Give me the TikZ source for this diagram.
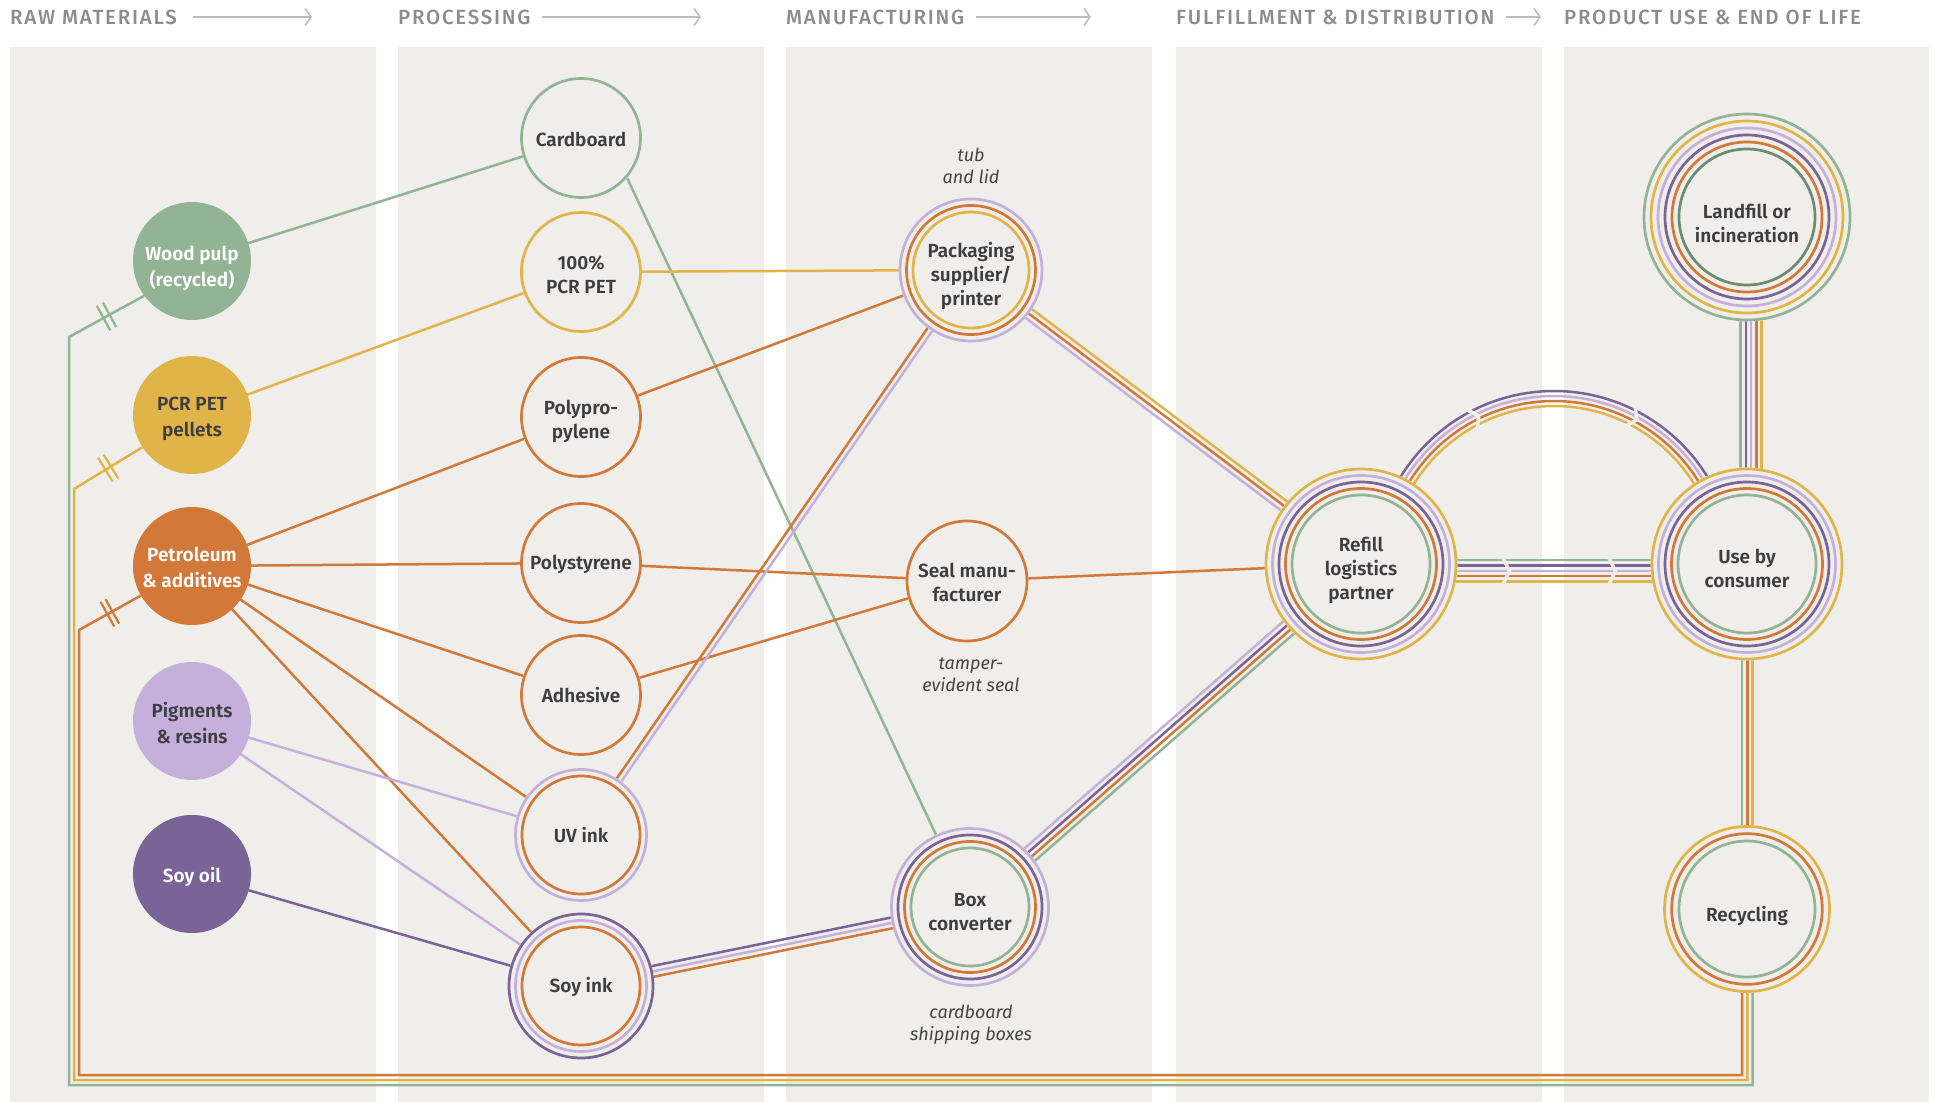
\documentclass[tikz,border=0pt]{standalone}
\usepackage{fontspec}
\setmainfont{Fira Sans}
\IfFontExistsTF{Fira Sans SemiBold}{\newfontfamily\semib{Fira Sans SemiBold}}{\newcommand\semib{\bfseries}}
\IfFontExistsTF{Fira Sans Medium}{\newfontfamily\headf{Fira Sans Medium}[LetterSpace=8.5]}{\newfontfamily\headf{Fira Sans}[LetterSpace=8.5]}
\usetikzlibrary{calc,arrows.meta}
\definecolor{bandc}{HTML}{EFEEEA}
\definecolor{cgreen}{HTML}{93B494}
\definecolor{cdkgreen}{HTML}{6C8C6F}
\definecolor{cyellow}{HTML}{E0B449}
\definecolor{corange}{HTML}{D27839}
\definecolor{clav}{HTML}{C4B0DA}
\definecolor{cpurple}{HTML}{7A6396}
\definecolor{ctext}{HTML}{3E3E42}
\definecolor{chead}{HTML}{8C8C8C}
\definecolor{carrow}{HTML}{BDBDBD}
\definecolor{cnote}{HTML}{444444}
\pgfdeclarelayer{bands}\pgfdeclarelayer{lines}\pgfsetlayers{bands,lines,main}
\tikzset{
  lbl/.style={font=\semib\fontsize{19}{24}\selectfont, text=ctext, align=center, inner sep=0pt},
  rawlbl/.style={font=\semib\fontsize{19}{26}\selectfont, text=ctext, align=center, inner sep=0pt},
  rawnode/.style={circle, minimum size=118pt, inner sep=0pt},
  hub/.style={circle, minimum size=#1, inner sep=0pt, fill=bandc},
  conn/.style={line width=2.5pt},
  ring/.style={line width=2.7pt},
  notetxt/.style={font=\itshape\fontsize{18}{22}\selectfont, text=cnote, align=center},
  hdr/.style={font=\headf\fontsize{20.5}{22}\selectfont, text=chead, anchor=west, inner sep=0pt},
  harrow/.style={draw=carrow, line width=1.6pt, -{Straight Barb[length=6pt,width=17pt]}},
  chev/.style={draw=bandc, line width=3.6pt},
}
\newcommand\rings[2]{\foreach \rr/\cc in {#2}{\draw[ring,\cc] (#1.center) circle[radius=\rr pt];}}
\newcommand\bundle[3]{\foreach \oo/\cc in {#3}{\draw[conn,\cc] ($(#1.center)!\oo pt!90:(#2.center)$) -- ($(#2.center)!\oo pt!-90:(#1.center)$);}}
\newcommand\tickmarks[3]{%
  \path (#1) -- (#2) coordinate[pos=0.46] (tka) coordinate[pos=0.54] (tkb);
  \draw[#3, line width=2.2pt] ($(tka)!14pt!90:(#2)$) -- ($(tka)!14pt!-90:(#2)$);
  \draw[#3, line width=2.2pt] ($(tkb)!14pt!90:(#2)$) -- ($(tkb)!14pt!-90:(#2)$);}
\begin{document}
\begin{tikzpicture}[x=1pt,y=-1pt]
\useasboundingbox (0,0) rectangle (1939,1102);
\begin{pgfonlayer}{bands}
\fill[white] (0,0) rectangle (1939,1102);
\foreach \xa/\xb in {10/376,398/764,786/1152,1176/1542,1564/1929}
  \fill[bandc] (\xa,47) rectangle (\xb,1102);
\end{pgfonlayer}

% headers
\node[hdr] (h1) at (10,17) {RAW MATERIALS};
\node[hdr] (h2) at (398,17) {PROCESSING};
\node[hdr] (h3) at (786,17) {MANUFACTURING};
\node[hdr] (h4) at (1176,17) {FULFILLMENT \& DISTRIBUTION};
\node[hdr] (h5) at (1564,17) {PRODUCT USE \& END OF LIFE};
\coordinate (a1) at (312,17);
\coordinate (a2) at (701,17);
\coordinate (a3) at (1091,17);
\coordinate (a4) at (1541,17);
\draw[harrow] ([xshift=16pt]h1.east) -- (a1);
\draw[harrow] ([xshift=11pt]h2.east) -- (a2);
\draw[harrow] ([xshift=12pt]h3.east) -- (a3);
\draw[harrow] ([xshift=11pt]h4.east) -- (a4);

% raw materials
\node[rawnode, fill=cgreen] (wood) at (192,261) {};
\node[rawlbl, text=white] (woodt) at ($(wood)+(0,7)$) {Wood pulp\\(recycled)};
\node[rawnode, fill=cyellow] (pcrpel) at (192,415) {};
\node[rawlbl] (pcrpelt) at ($(pcrpel)+(0,4)$) {PCR PET\\pellets};
\node[rawnode, fill=corange] (petro) at (192,566) {};
\node[rawlbl, text=white] (petrot) at ($(petro)+(0,1.5)$) {Petroleum\\\& additives};
\node[rawnode, fill=clav] (pigm) at (192,721) {};
\node[rawlbl] (pigmt) at ($(pigm)+(0,2.5)$) {Pigments\\\& resins};
\node[rawnode, fill=cpurple] (soyoil) at (192,874) {};
\node[rawlbl, text=white] (soyoilt) at ($(soyoil)+(0,2.5)$) {Soy oil};

% processing
\node[hub=122pt] (cardb) at (581,138) {}; \rings{cardb}{59.5/cgreen}
\node[lbl] (cardbt) at ($(cardb)+(0,1)$) {Cardboard};
\node[hub=122pt] (pcrpet) at (581,272) {}; \rings{pcrpet}{59.5/cyellow}
\node[lbl] (pcrpett) at ($(pcrpet)+(0,2.5)$) {100\%\\PCR PET};
\node[hub=122pt] (polyp) at (581,417) {}; \rings{polyp}{59.5/corange}
\node[lbl] (polypt) at ($(polyp)+(0,4)$) {Polypro-\\pylene};
\node[hub=122pt] (polys) at (581,563) {}; \rings{polys}{59.5/corange}
\node[lbl] (polyst) at ($(polys)+(0,1)$) {Polystyrene};
\node[hub=122pt] (adhes) at (581,695) {}; \rings{adhes}{59.5/corange}
\node[lbl] (adhest) at (adhes) {Adhesive};
\node[hub=134pt] (uvink) at (581,835) {}; \rings{uvink}{59/corange,65.5/clav}
\node[lbl] (uvinkt) at (uvink) {UV ink};
\node[hub=147pt] (soyink) at (581,986) {}; \rings{soyink}{59/corange,65.5/clav,72/cpurple}
\node[lbl] (soyinkt) at ($(soyink)+(0,1)$) {Soy ink};

% manufacturing
\node[hub=145pt] (pack) at (971,270) {}; \rings{pack}{58/cyellow,64.5/corange,71/clav}
\node[lbl] (packt) at ($(pack)+(0,6)$) {Packaging\\supplier/\\printer};
\node[hub=123pt] (seal) at (967,581) {}; \rings{seal}{60/corange}
\node[lbl] (sealt) at ($(seal)+(0,1)$) {Seal manu-\\facturer};
\node[hub=160pt] (box) at (970,907) {}; \rings{box}{59/cgreen,65.5/corange,72/cpurple,78.5/clav}
\node[lbl] (boxt) at ($(box)+(0,5)$) {Box\\converter};

% fulfillment / end of life
\node[hub=193pt] (refill) at (1361,564) {};
\rings{refill}{69/cgreen,75.5/corange,82/cpurple,88.5/clav,95/cyellow}
\node[lbl] (refillt) at ($(refill)+(0,6)$) {Refill\\logistics\\partner};
\node[hub=193pt] (use) at (1747,564) {};
\rings{use}{69/cgreen,75.5/corange,82/cpurple,88.5/clav,95/cyellow}
\node[lbl] (uset) at ($(use)+(0,4)$) {Use by\\consumer};
\node[hub=209pt] (landfill) at (1747,217) {};
\rings{landfill}{68/cdkgreen,75/corange,82/cpurple,89/clav,96/cyellow,103/cgreen}
\node[lbl] (landfillt) at ($(landfill)+(0,6)$) {Landfill or\\incineration};
\node[hub=168pt] (recyc) at (1747,909) {};
\rings{recyc}{68/cgreen,75.3/corange,82.5/cyellow}
\node[lbl] (recyct) at ($(recyc)+(0,6.5)$) {Recycling};

% notes
\node[notetxt] (n1) at (971,166) {tub\\and lid};
\node[notetxt] (n2) at (971,675) {tamper-\\evident seal};
\node[notetxt] (n3) at (971,1025) {cardboard\\shipping boxes};

% loop corners
\coordinate (og1) at (1742,1075); \coordinate (og2) at (79,1075); \coordinate (og3) at (79,630);
\coordinate (oy1) at (1747.3,1080); \coordinate (oy2) at (74,1080); \coordinate (oy3) at (74,489);
\coordinate (gg1) at (1752.6,1085); \coordinate (gg2) at (69,1085); \coordinate (gg3) at (69,337);

\begin{pgfonlayer}{lines}
% raw -> processing
\draw[conn,cgreen] (wood.center) -- (cardb.center);
\draw[conn,cyellow] (pcrpel.center) -- (pcrpet.center);
\foreach \t in {polyp,polys,adhes,uvink,soyink} \draw[conn,corange] (petro.center) -- (\t.center);
\draw[conn,clav] (pigm.center) -- (uvink.center);
\draw[conn,clav] (pigm.center) -- (soyink.center);
\draw[conn,cpurple] (soyoil.center) -- (soyink.center);
% processing -> manufacturing
\draw[conn,cgreen] (cardb.-41) -- (box.center);
\draw[conn,cyellow] (pcrpet.center) -- (pack.center);
\draw[conn,corange] (polyp.center) -- (pack.center);
\draw[conn,corange] (polys.center) -- (seal.center);
\draw[conn,corange] (adhes.center) -- (seal.center);
\bundle{uvink}{pack}{2.7/corange,-2.7/clav}
\bundle{soyink}{box}{5.4/cpurple,0/clav,-5.4/corange}
% manufacturing -> fulfillment
\bundle{pack}{refill}{5.4/cyellow,0/corange,-5.4/clav}
\draw[conn,corange] (seal.center) -- (refill.center);
\bundle{box}{refill}{8.1/clav,2.7/cpurple,-2.7/corange,-8.1/cgreen}
% refill -> use (straight)
\foreach \yy/\cc in {-4/cgreen,1.4/cpurple,6.8/clav,12.2/corange,17.6/cyellow}
  \draw[conn,\cc] ($(refill.center)+(0,\yy)$) -- ($(use.center)+(0,\yy)$);
\draw[chev] (1501,554) -- (1509.5,571) -- (1501,588);
\draw[chev] (1607,554) -- (1615.5,571) -- (1607,588);
% refill -> use (arc)
\foreach \R/\cc in {180/cpurple,175/clav,170/corange,165/cyellow}
  \draw[conn,\cc] plot[domain=162:18, samples=90, smooth] ({1554+\R*cos(\x)},{571-\R*sin(\x)});
\foreach \ph in {117.3,62.7}
  \draw[chev] ({1554+185*cos(\ph+1.4)},{571-185*sin(\ph+1.4)}) -- ({1554+172.5*cos(\ph-1.4)},{571-172.5*sin(\ph-1.4)}) -- ({1554+160*cos(\ph+1.4)},{571-160*sin(\ph+1.4)});
% landfill - use
\foreach \xx/\cc in {-6.5/cgreen,-1.2/cpurple,4.1/clav,9.4/corange,14.7/cyellow}
  \draw[conn,\cc] ($(landfill.center)+(\xx,0)$) -- ($(use.center)+(\xx,0)$);
% use - recycling
\foreach \xx/\cc in {-5/cgreen,0.3/corange,5.6/cyellow}
  \draw[conn,\cc] ($(use.center)+(\xx,0)$) -- ($(recyc.center)+(\xx,0)$);
% recycling loop back to raw materials
\draw[conn,corange] ($(recyc.center)+(-5,0)$) -- (og1) -- (og2) -- (og3) -- (petro.210);
\draw[conn,cyellow] ($(recyc.center)+(0.3,0)$) -- (oy1) -- (oy2) -- (oy3) -- (pcrpel.213);
\draw[conn,cgreen] ($(recyc.center)+(5.6,0)$) -- (gg1) -- (gg2) -- (gg3) -- (wood.216);
\tickmarks{og3}{petro.210}{corange}
\tickmarks{oy3}{pcrpel.213}{cyellow}
\tickmarks{gg3}{wood.216}{cgreen}
\end{pgfonlayer}
\end{tikzpicture}
\end{document}
